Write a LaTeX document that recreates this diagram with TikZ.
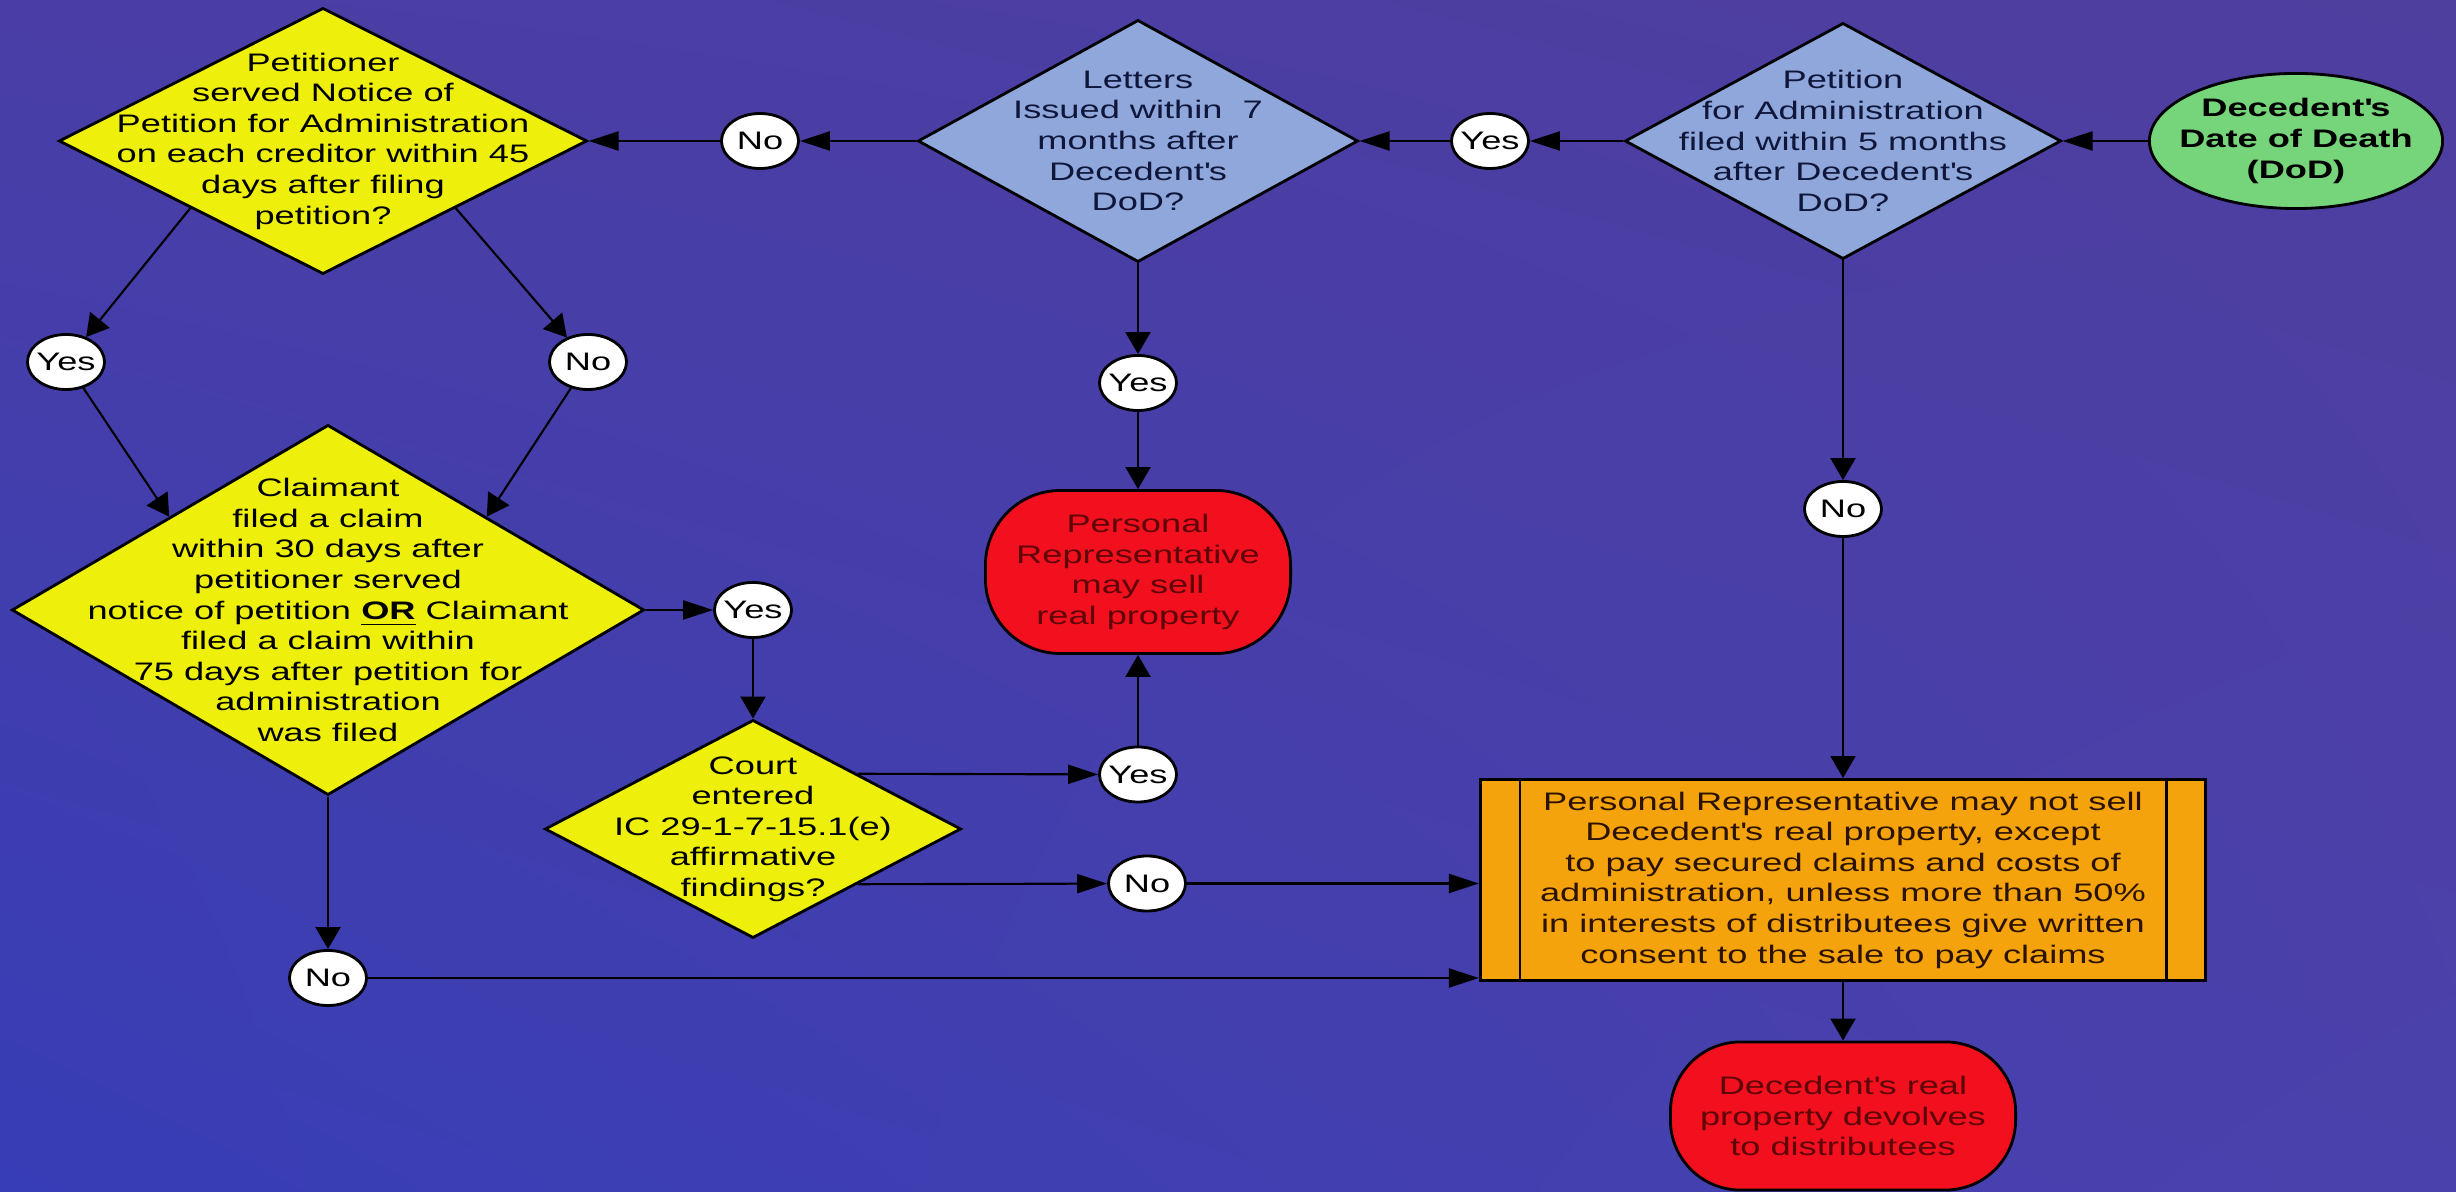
\documentclass[tikz,border=0pt]{standalone}
\usepackage{fontspec}
\setmainfont{Liberation Sans}[FakeStretch=1.43]
\usepackage{xcolor}
\usetikzlibrary{shapes.geometric,arrows.meta,shadings}
\definecolor{bgtl}{HTML}{4A3EA6}
\definecolor{bgtr}{HTML}{4E3E9E}
\definecolor{bgbl}{HTML}{373DB6}
\definecolor{bgbr}{HTML}{4B41AC}
\definecolor{qyellow}{HTML}{EEF00C}
\definecolor{qblue}{HTML}{8FA7DA}
\definecolor{qbluetext}{HTML}{10163A}
\definecolor{sgreen}{HTML}{76D47B}
\definecolor{ered}{HTML}{F2101E}
\definecolor{eredtext}{HTML}{5E0508}
\definecolor{porange}{HTML}{F4A30C}
\definecolor{porangetext}{HTML}{2B1300}

\begin{document}
\begin{tikzpicture}[x=0.01cm,y=-0.01cm,
  txt/.style={align=center,inner sep=0,font=\fontsize{7.2}{8.7}\selectfont},
  dec/.style={diamond,draw=black,line width=0.8pt,inner sep=0},
  ans/.style={ellipse,draw=black,fill=white,line width=0.8pt,minimum width=0.77cm,
    minimum height=0.55cm,inner xsep=-0.04cm,inner ysep=0,font=\fontsize{7.2}{8.7}\selectfont},
  endbox/.style={rectangle,draw=black,line width=0.8pt,fill=ered,text=eredtext,txt},
  flow/.style={line width=0.6pt,-{Triangle[length=0.3cm,width=0.19cm]}},
  vflow/.style={line width=0.6pt,-{Triangle[length=0.22cm,width=0.25cm]}}]
\shade[upper left=bgtl,upper right=bgtr,lower left=bgbl,lower right=bgbr] (0,0) rectangle (2456,1192);
\useasboundingbox (0,0) rectangle (2456,1192);

\node[ellipse,draw=black,line width=0.8pt,fill=sgreen,minimum width=2.93cm,minimum height=1.35cm,inner sep=0] (dod) at (2296,141) {};
\node[txt,font=\fontsize{7.2}{8.7}\selectfont\bfseries] (dodtxt) at (dod) {Decedent\textquotesingle s\\Date of Death\\(DoD)};
\node[dec,fill=qblue,minimum width=4.36cm,minimum height=2.36cm] (qpet) at (1843,141) {};
\node[txt,text=qbluetext] (qpettxt) at (qpet) {Petition\\for Administration\\filed within 5 months\\after Decedent\textquotesingle s\\DoD?};
\node[ans] (ypet) at (1490,141) {Yes};
\node[dec,fill=qblue,minimum width=4.40cm,minimum height=2.42cm] (qlet) at (1138,141) {};
\node[txt,text=qbluetext] (qlettxt) at (qlet) {Letters\\Issued within\ \ 7\\months after\\Decedent\textquotesingle s\\DoD?};
\node[ans] (nlet) at (760,141) {No};
\node[dec,fill=qyellow,minimum width=5.28cm,minimum height=2.66cm] (qserve) at (323,141) {};
\node[txt] (qservetxt) at (qserve) {Petitioner\\served Notice of\\Petition for Administration\\on each creditor within 45\\days after filing\\petition?};
\node[ans] (yserve) at (66,362) {Yes};
\node[ans] (nserve) at (588,362) {No};
\node[dec,fill=qyellow,minimum width=6.32cm,minimum height=3.70cm] (qclaim) at (328,610) {};
\node[txt] (qclaimtxt) at (qclaim) {Claimant\\filed a claim\\within 30 days after\\petitioner served\\notice of petition \underline{\textbf{OR}} Claimant\\filed a claim within\\75 days after petition for\\administration\\was filed};
\node[ans] (yclaim) at (753,610) {Yes};
\node[dec,fill=qyellow,minimum width=4.16cm,minimum height=2.18cm] (qcourt) at (753,829) {};
\node[txt] (qcourttxt) at (qcourt) {Court\\entered\\IC 29-1-7-15.1(e)\\affirmative\\findings?};
\node[ans] (ycourt) at (1138,774.5) {Yes};
\node[ans] (ncourt) at (1147,883.5) {No};
\node[ans] (nclaim) at (328,978) {No};
\node[ans] (ylet) at (1138,383) {Yes};
\node[ans] (npet) at (1843,509) {No};
\node[endbox,minimum width=3.05cm,minimum height=1.63cm,rounded corners=0.75cm] (sell) at (1138,572) {Personal\\Representative\\may sell\\real property};
\node[rectangle,draw=black,line width=0.8pt,fill=porange,text=porangetext,txt,minimum width=7.25cm,minimum height=2.01cm] (nosell) at (1843,880) {Personal Representative may not sell\\Decedent\textquotesingle s real property, except\\to pay secured claims and costs of\\administration, unless more than 50\%\\in interests of distributees give written\\consent to the sale to pay claims};
\draw[line width=0.8pt] ([xshift=0.41cm]nosell.north west) -- ([xshift=0.41cm]nosell.south west);
\draw[line width=0.8pt] ([xshift=-0.41cm]nosell.north east) -- ([xshift=-0.41cm]nosell.south east);
\node[endbox,minimum width=3.45cm,minimum height=1.48cm,rounded corners=0.7cm] (devolve) at (1843,1116) {Decedent\textquotesingle s real\\property devolves\\to distributees};

\draw[flow] (dod) -- (qpet);
\draw[flow] (qpet) -- (ypet);
\draw[flow] (ypet) -- (qlet);
\draw[flow] (qlet) -- (nlet);
\draw[flow] (nlet) -- (qserve);
\draw[vflow] (qserve.south west) -- (yserve);
\draw[vflow] (qserve.south east) -- (nserve);
\draw[vflow] (yserve) -- (qclaim.north west);
\draw[vflow] (nserve) -- (qclaim.north east);
\draw[flow] (qclaim) -- (yclaim);
\draw[vflow] (yclaim) -- (qcourt);
\draw[flow] (qcourt.north east) -- (ycourt);
\draw[vflow] (ycourt) -- (sell);
\draw[flow] (qcourt.south east) -- (ncourt);
\draw[flow] (ncourt) -- (ncourt -| nosell.west);
\draw[vflow] (qclaim) -- (nclaim);
\draw[flow] (nclaim) -- (nclaim -| nosell.west);
\draw[vflow] (qlet) -- (ylet);
\draw[vflow] (ylet) -- (sell);
\draw[vflow] (qpet) -- (npet);
\draw[vflow] (npet) -- (nosell);
\draw[vflow] (nosell) -- (devolve);
\end{tikzpicture}
\end{document}
